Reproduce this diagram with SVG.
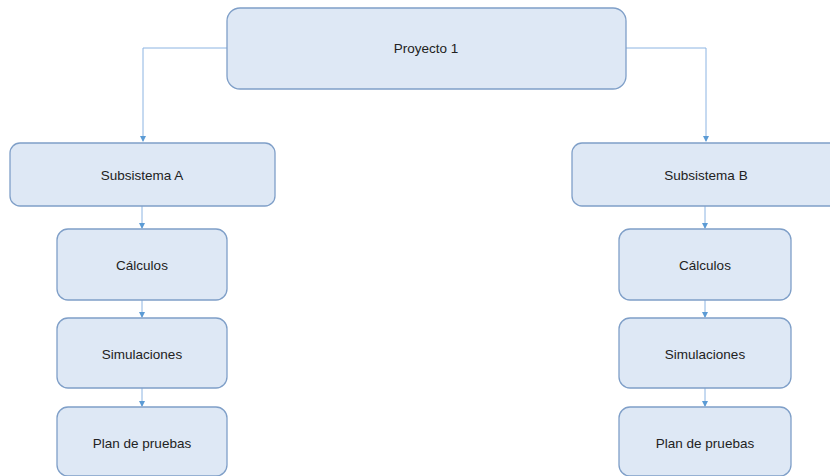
<svg xmlns="http://www.w3.org/2000/svg" width="830" height="476" viewBox="0 0 830 476">
<style>
.box{fill:#dee8f5;stroke:#7f9fc8;stroke-width:1.3}
.lbl{font-family:"Liberation Sans",Arial,sans-serif;font-size:13.5px;fill:#222;text-anchor:middle;dominant-baseline:central}
.con{fill:none;stroke:#8cb4e2;stroke-width:1}
</style>
<defs>
<marker id="ah" markerWidth="6" markerHeight="6" refX="5" refY="3" orient="auto" markerUnits="userSpaceOnUse">
<path d="M0,0 L6,3 L0,6 Z" fill="#5b9bd5"/>
</marker>
</defs>
<rect width="830" height="476" fill="#fff"/>
<g id="connectors">
<path class="con" d="M227,48 H143 V141" marker-end="url(#ah)"/>
<path class="con" d="M626,48 H706 V141" marker-end="url(#ah)"/>
<path class="con" d="M142,206 V228" marker-end="url(#ah)"/>
<path class="con" d="M142,300 V317" marker-end="url(#ah)"/>
<path class="con" d="M142,388 V406" marker-end="url(#ah)"/>
<path class="con" d="M705,206 V228" marker-end="url(#ah)"/>
<path class="con" d="M705,300 V317" marker-end="url(#ah)"/>
<path class="con" d="M705,388 V406" marker-end="url(#ah)"/>
</g>
<g id="proyecto1"><rect class="box" x="227" y="8" width="399" height="81" rx="13"/><text class="lbl" x="426" y="48">Proyecto 1</text></g>
<g id="subA"><rect class="box" x="10" y="143" width="265" height="63" rx="10"/><text class="lbl" x="142" y="175">Subsistema A</text></g>
<g id="calcA"><rect class="box" x="57" y="229" width="170" height="71" rx="11"/><text class="lbl" x="142" y="265">Cálculos</text></g>
<g id="simA"><rect class="box" x="57" y="318" width="170" height="70" rx="11"/><text class="lbl" x="142" y="354">Simulaciones</text></g>
<g id="planA"><rect class="box" x="57" y="407" width="170" height="69" rx="11"/><text class="lbl" x="142" y="443">Plan de pruebas</text></g>
<g id="subB"><rect class="box" x="572" y="143" width="270" height="63" rx="10"/><text class="lbl" x="706" y="175">Subsistema B</text></g>
<g id="calcB"><rect class="box" x="619" y="229" width="172" height="71" rx="11"/><text class="lbl" x="705" y="265">Cálculos</text></g>
<g id="simB"><rect class="box" x="619" y="318" width="172" height="70" rx="11"/><text class="lbl" x="705" y="354">Simulaciones</text></g>
<g id="planB"><rect class="box" x="619" y="407" width="172" height="69" rx="11"/><text class="lbl" x="705" y="443">Plan de pruebas</text></g>
</svg>
